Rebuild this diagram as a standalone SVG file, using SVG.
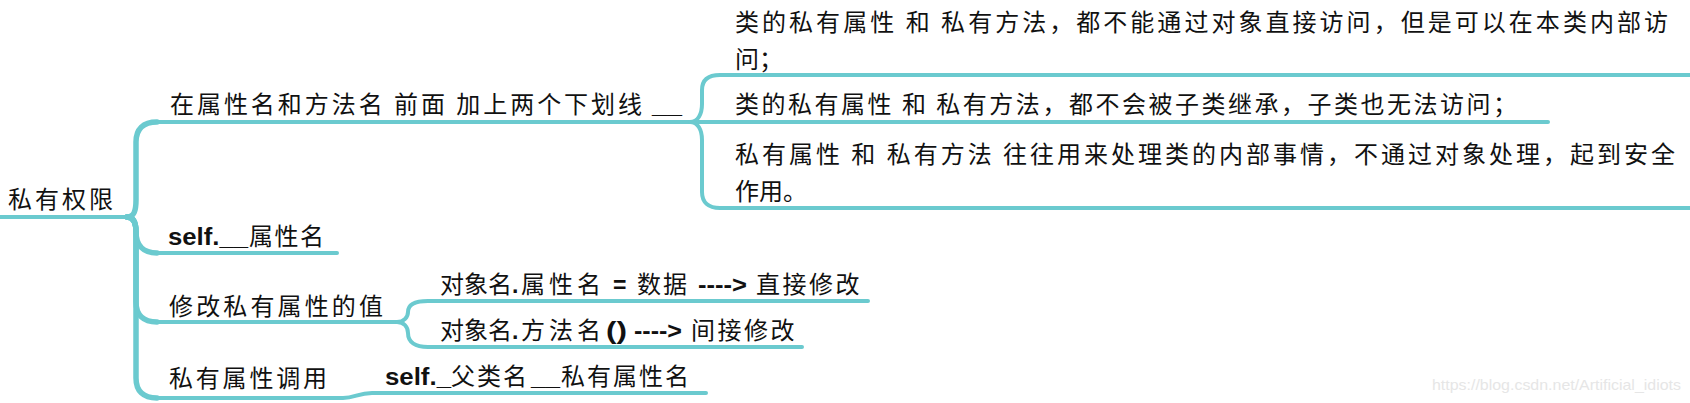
<svg xmlns="http://www.w3.org/2000/svg" width="1690" height="403" viewBox="0 0 1690 403">
  <style>
    .t { font-family: "Noto Sans CJK SC", "Noto Sans", sans-serif; font-size: 24px; fill: #111; }
    .b { font-family: "Liberation Sans", Arial, sans-serif; font-weight: bold; font-size: 23px; fill: #111; }
    .c { fill: none; stroke: #6BCACF; stroke-width: 4; stroke-linecap: round; stroke-linejoin: round; }
    .m { stroke-width: 5.5; }
    .wm { font-family: "Liberation Sans", Arial, sans-serif; font-size: 15px; fill: #e6e6e6; }
  </style>
  <rect width="1690" height="403" fill="#ffffff"/>
  <g id="connectors">
    <path class="c" d="M0,217 L127,217"/>
    <path class="c m" d="M127,217 C134,217 136,211 136,200 L136,142 C136,129 143,122 157,122"/>
    <path class="c m" d="M127,217 C134,217 136,223 136,232 C136,245 143,253 157,253"/>
    <path class="c m" d="M127,217 C134,217 136,223 136,232 L136,302 C136,315 143,322 157,322"/>
    <path class="c m" d="M127,217 C134,217 136,223 136,232 L136,378 C136,391 143,398 157,398"/>
    <path class="c" d="M157,122 L690,122"/>
    <path class="c" d="M157,253 L337,253"/>
    <path class="c" d="M157,322 L397,322"/>
    <path class="c" d="M157,398 L343,398 C355,398 358,393 372,393 L706,393"/>
    <path class="c" d="M690,122 C698,122 702,114 702,104 L702,90 C702,80 708,75 720,75 L1690,75"/>
    <path class="c" d="M690,122 L1548,122"/>
    <path class="c" d="M690,122 C698,122 702,130 702,140 L702,192 C702,202 708,208 720,208 L1690,208"/>
    <path class="c" d="M397,322 C404,322 408,317 408,312 C408,305 415,301 428,301 L868,301"/>
    <path class="c" d="M397,322 C404,322 408,327 408,333 C408,342 415,347 428,347 L802,347"/>
  </g>
  <g id="root">
    <text class="t" x="8" y="208" textLength="105" lengthAdjust="spacing">私有权限</text>
  </g>
  <g id="n1">
    <text class="t" x="170" y="113" textLength="472" lengthAdjust="spacing">在属性名和方法名 前面 加上两个下划线</text>
    <text class="b" x="652" y="113" textLength="30" lengthAdjust="spacingAndGlyphs">__</text>
  </g>
  <g id="n1a">
    <text class="t" x="735" y="31" textLength="933" lengthAdjust="spacing">类的私有属性 和 私有方法，都不能通过对象直接访问，但是可以在本类内部访</text>
    <text class="t" x="735" y="68">问；</text>
  </g>
  <g id="n1b">
    <text class="t" x="735" y="113" textLength="782" lengthAdjust="spacing">类的私有属性 和 私有方法，都不会被子类继承，子类也无法访问；</text>
  </g>
  <g id="n1c">
    <text class="t" x="735" y="163" textLength="940" lengthAdjust="spacing">私有属性 和 私有方法 往往用来处理类的内部事情，不通过对象处理，起到安全</text>
    <text class="t" x="735" y="200">作用。</text>
  </g>
  <g id="n2">
    <text class="b" x="168" y="245" textLength="80" lengthAdjust="spacingAndGlyphs">self.__</text>
    <text class="t" x="249" y="245" letter-spacing="1.5">属性名</text>
  </g>
  <g id="n3">
    <text class="t" x="169" y="315" textLength="214" lengthAdjust="spacing">修改私有属性的值</text>
  </g>
  <g id="n3a">
    <text class="t" x="440" y="293">对象名</text>
    <text class="b" x="512" y="293">.</text>
    <text class="t" x="521" y="293" letter-spacing="4">属性名</text>
    <text class="b" x="613" y="293">=</text>
    <text class="t" x="637" y="293" letter-spacing="2">数据</text>
    <text class="b" x="698" y="293" textLength="49" lengthAdjust="spacingAndGlyphs">----&gt;</text>
    <text class="t" x="756" y="293" letter-spacing="2.5">直接修改</text>
  </g>
  <g id="n3b">
    <text class="t" x="440" y="339">对象名</text>
    <text class="b" x="512" y="339">.</text>
    <text class="t" x="521" y="339" letter-spacing="4">方法名</text>
    <text class="b" x="606" y="339" textLength="21" lengthAdjust="spacingAndGlyphs">()</text>
    <text class="b" x="634" y="339" textLength="48" lengthAdjust="spacingAndGlyphs">----&gt;</text>
    <text class="t" x="691" y="339" letter-spacing="2.5">间接修改</text>
  </g>
  <g id="n4">
    <text class="t" x="169" y="387" textLength="158" lengthAdjust="spacing">私有属性调用</text>
  </g>
  <g id="n4a">
    <text class="b" x="385" y="385" textLength="66" lengthAdjust="spacingAndGlyphs">self._</text>
    <text class="t" x="451" y="385" letter-spacing="2">父类名</text>
    <text class="b" x="531" y="385" textLength="29" lengthAdjust="spacingAndGlyphs">__</text>
    <text class="t" x="561" y="385" letter-spacing="2">私有属性名</text>
  </g>
  <text class="wm" x="1432" y="390" textLength="249" lengthAdjust="spacingAndGlyphs">https://blog.csdn.net/Artificial_idiots</text>
</svg>
